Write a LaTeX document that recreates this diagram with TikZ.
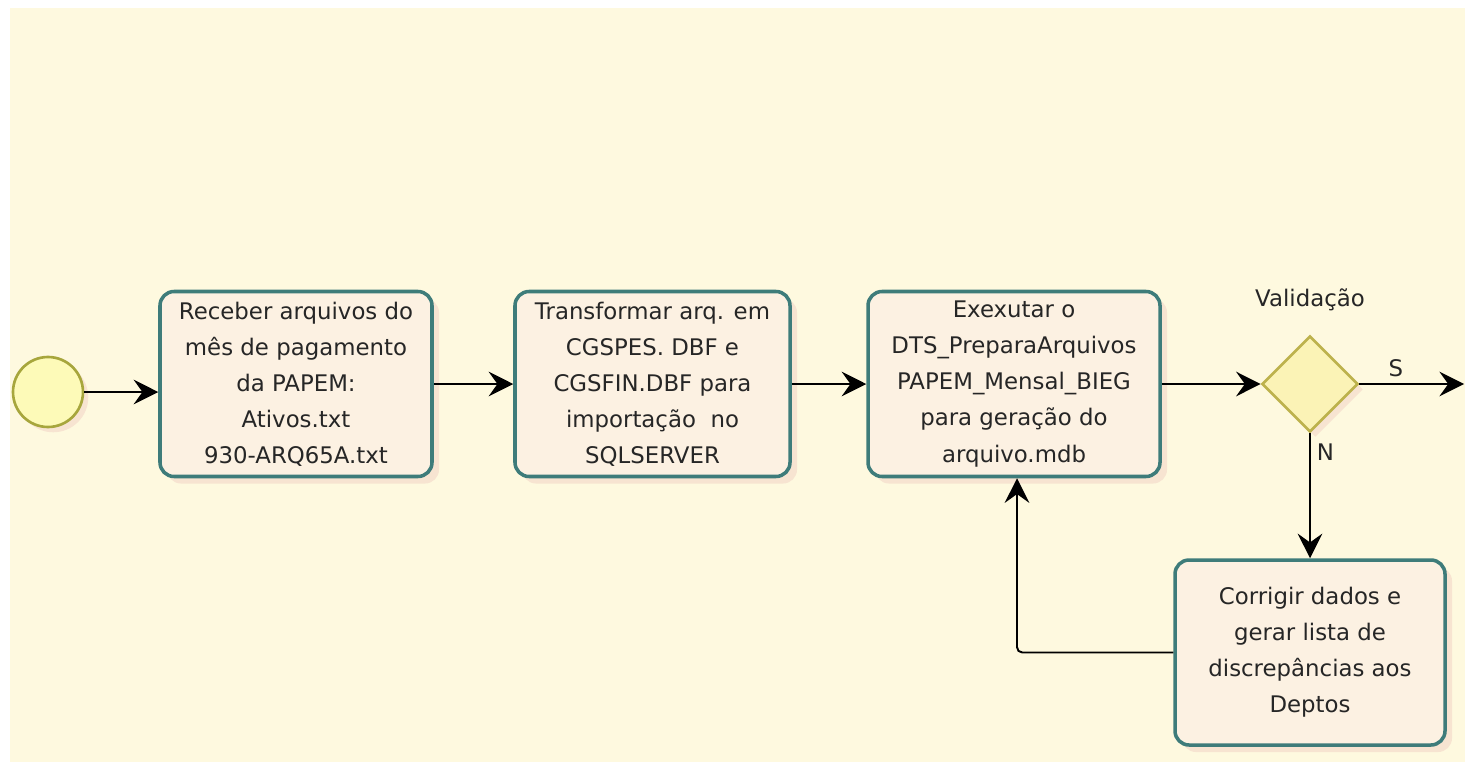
\documentclass[tikz,border=0pt]{standalone}
\usepackage{fontspec}
\newfontfamily\flowfont{DejaVu Sans}
\usetikzlibrary{arrows.meta,shapes.geometric,shadows}

\definecolor{bgcream}{HTML}{FEF9DF}
\definecolor{taskfill}{HTML}{FCF1E2}
\definecolor{taskline}{HTML}{3E7C7A}
\definecolor{evfill}{HTML}{FDFAB8}
\definecolor{evline}{HTML}{A7A63C}
\definecolor{gwfill}{HTML}{FBF3B6}
\definecolor{gwline}{HTML}{BDB24C}
\definecolor{shadowpink}{HTML}{F3D6C8}

\begin{document}
\begin{tikzpicture}[
    task/.style={rectangle, rounded corners=8pt, draw=taskline, line width=2pt, fill=taskfill,
                 minimum height=3.7cm, inner sep=2pt, align=center, text=black!85,
                 font=\flowfont\fontsize{13}{20.5}\selectfont,
                 drop shadow={shadow xshift=4pt, shadow yshift=-4pt, fill=shadowpink, opacity=0.6}},
    startev/.style={circle, draw=evline, line width=1.5pt, fill=evfill, minimum size=1.4cm, inner sep=0pt,
                 drop shadow={shadow xshift=3pt, shadow yshift=-3pt, fill=shadowpink, opacity=0.6}},
    gateway/.style={diamond, draw=gwline, line width=1.5pt, fill=gwfill, minimum size=1.92cm, inner sep=0pt,
                 drop shadow={shadow xshift=3pt, shadow yshift=-3pt, fill=shadowpink, opacity=0.6}},
    flow/.style={-{Stealth[length=14pt, width=14pt, inset=5pt]}, line width=1.1pt, black},
    gwlbl/.style={font=\flowfont\fontsize{13}{15}\selectfont, text=black!85}
]
\useasboundingbox (0,0) rectangle (29.3,-15.24);
\fill[bgcream] (0.2,-0.16) rectangle (29.3,-15.24);

%  -- Start event and tasks  --
\node[startev] (start) at (0.96, -7.84) {};
\node[task, minimum width=5.44cm] (receber) at (5.92, -7.68)
  {Receber arquivos do\\mês de pagamento\\da PAPEM:\\Ativos.txt\\930-ARQ65A.txt};
\node[task, minimum width=5.5cm] (transf) at (13.05, -7.68)
  {Transformar arq. em\\CGSPES. DBF e\\CGSFIN.DBF para\\importação\ \ no\\SQLSERVER};
\node[task, minimum width=5.84cm] (executar) at (20.28, -7.68)
  {Exexutar o\\DTS\_PreparaArquivos\\PAPEM\_Mensal\_BIEG\\para geração do\\arquivo.mdb};

%  -- Gateway and correction loop  --
\node[gateway] (valid) at (26.2, -7.68) {};
\node[gwlbl] (validlbl) at (26.2, -6.0) {Validação};
\node[task, minimum width=5.4cm] (corrigir) at (26.2, -13.05)
  {Corrigir dados e\\gerar lista de\\discrepâncias aos\\Deptos};
\coordinate (out) at (29.28, -7.68);

%  -- Connectors  --
\draw[flow] (start) -- (start -| receber.west);
\draw[flow] (receber) -- (transf);
\draw[flow] (transf) -- (executar);
\draw[flow] (executar) -- (valid);
\draw[flow] (valid) -- node[gwlbl, above, pos=0.35] (slbl) {S} (out);
\draw[flow] (valid) -- node[gwlbl, right, pos=0.15] (nlbl) {N} (corrigir);
\draw[flow, rounded corners=3pt] (corrigir.west) -| ([xshift=0.06cm]executar.south);

\end{tikzpicture}
\end{document}
